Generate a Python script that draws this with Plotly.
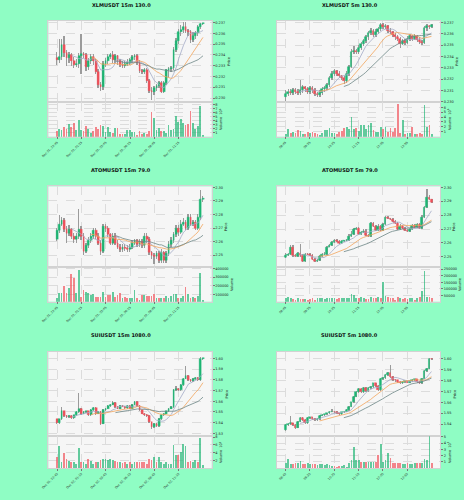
import pandas as pd
import plotly.graph_objects as go

# ---- XLMUSDT 15m ----
XLM15_OPEN = [0.2337, 0.2335, 0.2338, 0.2349, 0.2342, 0.2337, 0.2340, 0.2334, 0.2331, 0.2332,
              0.2339, 0.2341, 0.2340, 0.2329, 0.2334, 0.2338, 0.2334, 0.2324, 0.2312, 0.2310,
              0.2332, 0.2334, 0.2338, 0.2340, 0.2335, 0.2339, 0.2334, 0.2331, 0.2330, 0.2332,
              0.2333, 0.2335, 0.2338, 0.2339, 0.2333, 0.2325, 0.2324, 0.2326, 0.2316, 0.2307,
              0.2306, 0.2309, 0.2311, 0.2314, 0.2306, 0.2314, 0.2326, 0.2327, 0.2328, 0.2345,
              0.2353, 0.2361, 0.2363, 0.2366, 0.2362, 0.2361, 0.2354, 0.2358, 0.2360, 0.2366,
              0.2369]
XLM15_HIGH = [0.2343, 0.2355, 0.2355, 0.2358, 0.2345, 0.2343, 0.2342, 0.2338, 0.2336, 0.2342,
              0.2359, 0.2343, 0.2342, 0.2337, 0.2341, 0.2341, 0.2336, 0.2327, 0.2315, 0.2334,
              0.2337, 0.2341, 0.2342, 0.2344, 0.2341, 0.2340, 0.2336, 0.2334, 0.2334, 0.2336,
              0.2337, 0.2340, 0.2341, 0.2341, 0.2335, 0.2327, 0.2328, 0.2328, 0.2318, 0.2310,
              0.2311, 0.2313, 0.2316, 0.2316, 0.2316, 0.2327, 0.2329, 0.2330, 0.2347, 0.2356,
              0.2364, 0.2368, 0.2371, 0.2371, 0.2364, 0.2363, 0.2361, 0.2362, 0.2368, 0.2370,
              0.2370]
XLM15_LOW = [0.2331, 0.2333, 0.2335, 0.2338, 0.2330, 0.2333, 0.2330, 0.2328, 0.2329, 0.2328,
             0.2322, 0.2337, 0.2325, 0.2326, 0.2332, 0.2331, 0.2322, 0.2309, 0.2307, 0.2308,
             0.2329, 0.2332, 0.2336, 0.2333, 0.2333, 0.2331, 0.2329, 0.2328, 0.2328, 0.2330,
             0.2331, 0.2333, 0.2335, 0.2331, 0.2323, 0.2322, 0.2322, 0.2314, 0.2305, 0.2298,
             0.2303, 0.2307, 0.2309, 0.2305, 0.2305, 0.2312, 0.2320, 0.2324, 0.2326, 0.2343,
             0.2350, 0.2358, 0.2360, 0.2360, 0.2358, 0.2351, 0.2352, 0.2355, 0.2358, 0.2364,
             0.2368]
XLM15_CLOSE = [0.2335, 0.2338, 0.2349, 0.2342, 0.2337, 0.2340, 0.2334, 0.2331, 0.2332, 0.2339,
               0.2341, 0.2340, 0.2329, 0.2334, 0.2338, 0.2334, 0.2324, 0.2312, 0.2310, 0.2332,
               0.2334, 0.2338, 0.2340, 0.2335, 0.2339, 0.2334, 0.2331, 0.2330, 0.2332, 0.2333,
               0.2335, 0.2338, 0.2339, 0.2333, 0.2325, 0.2324, 0.2326, 0.2316, 0.2307, 0.2306,
               0.2309, 0.2311, 0.2314, 0.2306, 0.2314, 0.2326, 0.2327, 0.2328, 0.2345, 0.2353,
               0.2361, 0.2363, 0.2366, 0.2362, 0.2361, 0.2354, 0.2358, 0.2360, 0.2366, 0.2369,
               0.2370]
XLM15_VOLUME = [1.5, 1.9, 1.75, 2.3, 1.9, 3.2, 2.3, 3.3, 1.7, 4.2,
                1.7, 1.5, 2.7, 1.9, 1.0, 1.5, 2.3, 1.9, 2.9, 2.7,
                1.3, 2.3, 1.25, 0.9, 2.1, 2.1, 0.8, 0.8, 0.7, 1.7,
                1.6, 1.25, 1.25, 0.5, 1.5, 0.8, 1.0, 0.7, 1.5, 6.1,
                4.7, 1.7, 2.2, 1.5, 1.5, 0.9, 3.0, 1.7, 1.9, 5.25,
                3.6, 4.4, 3.5, 3.0, 3.2, 6.3, 3.4, 1.9, 2.75, 7.5,
                0.4]  # x10^6
XLM15_PRICE_TICKS = [0.230, 0.231, 0.232, 0.233, 0.234, 0.235, 0.236, 0.237]

# ---- XLMUSDT 5m ----
XLM5_OPEN = [0.2304, 0.2307, 0.2309, 0.2308, 0.2310, 0.2309, 0.2308, 0.2310, 0.2313, 0.2311,
             0.2309, 0.2312, 0.2310, 0.2307, 0.2306, 0.2308, 0.2311, 0.2312, 0.2315, 0.2321,
             0.2325, 0.2327, 0.2325, 0.2323, 0.2321, 0.2318, 0.2325, 0.2331, 0.2344, 0.2345,
             0.2344, 0.2348, 0.2351, 0.2354, 0.2357, 0.2361, 0.2363, 0.2359, 0.2362, 0.2364,
             0.2368, 0.2366, 0.2367, 0.2363, 0.2362, 0.2359, 0.2357, 0.2356, 0.2351, 0.2354,
             0.2352, 0.2356, 0.2358, 0.2356, 0.2358, 0.2355, 0.2353, 0.2352, 0.2365, 0.2367,
             0.2366]
XLM5_HIGH = [0.2310, 0.2311, 0.2311, 0.2312, 0.2312, 0.2311, 0.2319, 0.2315, 0.2314, 0.2313,
             0.2314, 0.2314, 0.2312, 0.2309, 0.2310, 0.2313, 0.2314, 0.2317, 0.2323, 0.2327,
             0.2329, 0.2328, 0.2327, 0.2324, 0.2323, 0.2327, 0.2333, 0.2347, 0.2349, 0.2347,
             0.2350, 0.2353, 0.2356, 0.2359, 0.2363, 0.2365, 0.2364, 0.2364, 0.2366, 0.2370,
             0.2370, 0.2369, 0.2368, 0.2365, 0.2363, 0.2361, 0.2359, 0.2357, 0.2356, 0.2356,
             0.2358, 0.2360, 0.2359, 0.2360, 0.2359, 0.2357, 0.2355, 0.2367, 0.2369, 0.2368,
             0.2369]
XLM5_LOW = [0.2301, 0.2305, 0.2306, 0.2306, 0.2307, 0.2306, 0.2306, 0.2308, 0.2309, 0.2307,
            0.2307, 0.2308, 0.2305, 0.2304, 0.2304, 0.2306, 0.2309, 0.2310, 0.2313, 0.2319,
            0.2323, 0.2323, 0.2321, 0.2319, 0.2316, 0.2317, 0.2323, 0.2330, 0.2342, 0.2342,
            0.2342, 0.2346, 0.2349, 0.2352, 0.2355, 0.2359, 0.2357, 0.2357, 0.2360, 0.2363,
            0.2364, 0.2364, 0.2361, 0.2360, 0.2357, 0.2355, 0.2354, 0.2348, 0.2350, 0.2350,
            0.2351, 0.2354, 0.2354, 0.2355, 0.2353, 0.2351, 0.2350, 0.2351, 0.2363, 0.2364,
            0.2365]
XLM5_CLOSE = [0.2307, 0.2309, 0.2308, 0.2310, 0.2309, 0.2308, 0.2310, 0.2313, 0.2311, 0.2309,
              0.2312, 0.2310, 0.2307, 0.2306, 0.2308, 0.2311, 0.2312, 0.2315, 0.2321, 0.2325,
              0.2327, 0.2325, 0.2323, 0.2321, 0.2318, 0.2325, 0.2331, 0.2344, 0.2345, 0.2344,
              0.2348, 0.2351, 0.2354, 0.2357, 0.2361, 0.2363, 0.2359, 0.2362, 0.2364, 0.2368,
              0.2366, 0.2367, 0.2363, 0.2362, 0.2359, 0.2357, 0.2356, 0.2351, 0.2354, 0.2352,
              0.2356, 0.2358, 0.2356, 0.2358, 0.2355, 0.2353, 0.2352, 0.2365, 0.2367, 0.2366,
              0.2368]
XLM5_VOLUME = [0.6, 1.5, 0.8, 0.9, 0.7, 1.3, 1.2, 0.6, 0.6, 1.0,
               0.8, 1.0, 0.8, 0.5, 0.4, 0.8, 1.3, 1.3, 1.7, 0.8,
               0.7, 0.6, 0.9, 1.1, 1.7, 2.0, 1.6, 4.1, 1.6, 1.8,
               1.2, 2.5, 2.5, 1.6, 2.5, 2.9, 1.3, 1.0, 1.0, 1.9,
               1.6, 2.0, 1.0, 1.7, 1.0, 1.7, 6.6, 0.8, 3.4, 0.6,
               0.8, 0.7, 2.1, 0.6, 0.5, 0.8, 0.6, 6.4, 1.9, 2.5,
               0.5]  # x10^6
XLM5_PRICE_TICKS = [0.230, 0.231, 0.232, 0.233, 0.234, 0.235, 0.236, 0.237]

# ---- ATOMUSDT 15m ----
ATOM15_OPEN = [2.262, 2.268, 2.273, 2.276, 2.269, 2.266, 2.269, 2.264, 2.262, 2.264,
               2.269, 2.264, 2.253, 2.257, 2.261, 2.264, 2.268, 2.264, 2.259, 2.253,
               2.271, 2.270, 2.265, 2.259, 2.264, 2.259, 2.256, 2.254, 2.256, 2.255,
               2.254, 2.256, 2.259, 2.261, 2.258, 2.260, 2.257, 2.264, 2.262, 2.252,
               2.250, 2.249, 2.251, 2.246, 2.252, 2.246, 2.251, 2.258, 2.261, 2.265,
               2.270, 2.267, 2.273, 2.274, 2.270, 2.278, 2.273, 2.274, 2.270, 2.278,
               2.291]
ATOM15_HIGH = [2.270, 2.279, 2.278, 2.277, 2.271, 2.272, 2.270, 2.266, 2.266, 2.284,
               2.271, 2.266, 2.259, 2.263, 2.266, 2.270, 2.270, 2.266, 2.261, 2.273,
               2.273, 2.271, 2.266, 2.266, 2.266, 2.261, 2.258, 2.258, 2.258, 2.257,
               2.258, 2.261, 2.262, 2.262, 2.262, 2.262, 2.266, 2.266, 2.263, 2.253,
               2.251, 2.253, 2.253, 2.254, 2.253, 2.253, 2.260, 2.263, 2.267, 2.272,
               2.272, 2.276, 2.277, 2.276, 2.280, 2.280, 2.276, 2.276, 2.280, 2.298,
               2.293]
ATOM15_LOW = [2.260, 2.266, 2.271, 2.267, 2.259, 2.264, 2.262, 2.259, 2.259, 2.262,
              2.261, 2.250, 2.251, 2.255, 2.259, 2.262, 2.262, 2.257, 2.250, 2.251,
              2.267, 2.263, 2.257, 2.257, 2.257, 2.254, 2.252, 2.252, 2.253, 2.252,
              2.252, 2.254, 2.257, 2.256, 2.256, 2.255, 2.255, 2.259, 2.250, 2.247,
              2.243, 2.247, 2.244, 2.244, 2.244, 2.244, 2.249, 2.256, 2.259, 2.263,
              2.264, 2.265, 2.271, 2.268, 2.268, 2.271, 2.271, 2.268, 2.268, 2.276,
              2.289]
ATOM15_CLOSE = [2.268, 2.273, 2.276, 2.269, 2.266, 2.269, 2.264, 2.262, 2.264, 2.269,
                2.264, 2.253, 2.257, 2.261, 2.264, 2.268, 2.264, 2.259, 2.253, 2.271,
                2.270, 2.265, 2.259, 2.264, 2.259, 2.256, 2.254, 2.256, 2.255, 2.254,
                2.256, 2.259, 2.261, 2.258, 2.260, 2.257, 2.264, 2.262, 2.252, 2.250,
                2.249, 2.251, 2.246, 2.252, 2.246, 2.251, 2.258, 2.261, 2.265, 2.270,
                2.267, 2.273, 2.274, 2.270, 2.278, 2.273, 2.274, 2.270, 2.278, 2.291,
                2.292]
ATOM15_VOLUME = [52000, 120000, 120000, 200000, 120000, 172000, 332000, 284000, 112000, 380000,
                 64000, 152000, 124000, 120000, 88000, 104000, 72000, 64000, 64000, 124000,
                 64000, 88000, 88000, 128000, 64000, 88000, 120000, 60000, 70000, 60000,
                 60000, 60000, 144000, 60000, 40000, 88000, 92000, 84000, 84000, 80000,
                 100000, 60000, 60000, 52000, 52000, 80000, 60000, 80000, 104000, 104000,
                 60000, 52000, 80000, 184000, 100000, 52000, 72000, 60000, 80000, 340000,
                 32000]
ATOM15_PRICE_TICKS = [2.25, 2.26, 2.27, 2.28, 2.29, 2.30]

# ---- ATOMUSDT 5m ----
ATOM5_OPEN = [2.2495, 2.2512, 2.2515, 2.2571, 2.2507, 2.2505, 2.2524, 2.2507, 2.2467, 2.2519,
              2.2517, 2.2507, 2.2483, 2.2467, 2.2471, 2.2500, 2.2519, 2.2521, 2.2571, 2.2583,
              2.2602, 2.2619, 2.2610, 2.2595, 2.2610, 2.2615, 2.2619, 2.2650, 2.2662, 2.2698,
              2.2705, 2.2662, 2.2674, 2.2686, 2.2657, 2.2650, 2.2738, 2.2721, 2.2690, 2.2721,
              2.2690, 2.2733, 2.2781, 2.2774, 2.2769, 2.2757, 2.2738, 2.2698, 2.2721, 2.2705,
              2.2690, 2.2681, 2.2698, 2.2726, 2.2710, 2.2733, 2.2705, 2.2786, 2.2857, 2.2931,
              2.2912]
ATOM5_HIGH = [2.2522, 2.2525, 2.2580, 2.2580, 2.2515, 2.2532, 2.2590, 2.2515, 2.2527, 2.2526,
              2.2526, 2.2515, 2.2492, 2.2480, 2.2508, 2.2527, 2.2530, 2.2578, 2.2592, 2.2610,
              2.2628, 2.2625, 2.2618, 2.2617, 2.2622, 2.2627, 2.2660, 2.2680, 2.2706, 2.2714,
              2.2712, 2.2682, 2.2694, 2.2694, 2.2665, 2.2746, 2.2745, 2.2728, 2.2730, 2.2728,
              2.2742, 2.2790, 2.2790, 2.2780, 2.2775, 2.2764, 2.2745, 2.2730, 2.2728, 2.2712,
              2.2698, 2.2706, 2.2735, 2.2733, 2.2742, 2.2740, 2.2795, 2.2866, 2.2983, 2.2940,
              2.2915]
ATOM5_LOW = [2.2487, 2.2505, 2.2508, 2.2498, 2.2497, 2.2498, 2.2499, 2.2460, 2.2460, 2.2510,
             2.2500, 2.2475, 2.2460, 2.2462, 2.2465, 2.2493, 2.2512, 2.2514, 2.2565, 2.2576,
             2.2595, 2.2603, 2.2588, 2.2588, 2.2604, 2.2608, 2.2612, 2.2643, 2.2655, 2.2690,
             2.2655, 2.2656, 2.2668, 2.2650, 2.2643, 2.2643, 2.2715, 2.2683, 2.2684, 2.2683,
             2.2684, 2.2726, 2.2767, 2.2762, 2.2750, 2.2731, 2.2690, 2.2690, 2.2698, 2.2683,
             2.2674, 2.2675, 2.2690, 2.2703, 2.2703, 2.2698, 2.2698, 2.2780, 2.2850, 2.2905,
             2.2888]
ATOM5_CLOSE = [2.2512, 2.2515, 2.2571, 2.2507, 2.2505, 2.2524, 2.2507, 2.2467, 2.2519, 2.2517,
               2.2507, 2.2483, 2.2467, 2.2471, 2.2500, 2.2519, 2.2521, 2.2571, 2.2583, 2.2602,
               2.2619, 2.2610, 2.2595, 2.2610, 2.2615, 2.2619, 2.2650, 2.2662, 2.2698, 2.2705,
               2.2662, 2.2674, 2.2686, 2.2657, 2.2650, 2.2738, 2.2721, 2.2690, 2.2721, 2.2690,
               2.2733, 2.2781, 2.2774, 2.2769, 2.2757, 2.2738, 2.2698, 2.2721, 2.2705, 2.2690,
               2.2681, 2.2698, 2.2726, 2.2710, 2.2733, 2.2705, 2.2786, 2.2857, 2.2931, 2.2912,
               2.2895]
ATOM5_VOLUME = [26000, 38000, 26000, 18000, 13000, 26000, 18000, 18000, 18000, 13000,
                18000, 26000, 13000, 26000, 26000, 31000, 23000, 26000, 26000, 31000,
                26000, 23000, 31000, 26000, 28000, 31000, 31000, 56000, 51000, 31000,
                26000, 38000, 26000, 18000, 18000, 38000, 28000, 26000, 38000, 26000,
                146000, 46000, 33000, 26000, 26000, 13000, 33000, 26000, 18000, 26000,
                18000, 28000, 31000, 13000, 26000, 38000, 82000, 236000, 38000, 38000,
                26000]
ATOM5_PRICE_TICKS = [2.25, 2.26, 2.27, 2.28, 2.29, 2.30]

# ---- SUIUSDT 15m ----
SUI15_OPEN = [1.5431, 1.5400, 1.5431, 1.5506, 1.5463, 1.5453, 1.5463, 1.5444, 1.5469, 1.5500,
              1.5531, 1.5484, 1.5500, 1.5506, 1.5469, 1.5516, 1.5538, 1.5484, 1.5500, 1.5391,
              1.5516, 1.5531, 1.5556, 1.5569, 1.5588, 1.5547, 1.5531, 1.5556, 1.5550, 1.5538,
              1.5556, 1.5531, 1.5569, 1.5594, 1.5556, 1.5516, 1.5484, 1.5475, 1.5463, 1.5406,
              1.5359, 1.5391, 1.5369, 1.5438, 1.5469, 1.5484, 1.5506, 1.5531, 1.5547, 1.5703,
              1.5719, 1.5703, 1.5750, 1.5813, 1.5838, 1.5797, 1.5788, 1.5806, 1.5819, 1.5797,
              1.6000]
SUI15_HIGH = [1.5440, 1.5440, 1.5547, 1.5512, 1.5470, 1.5472, 1.5470, 1.5476, 1.5508, 1.5678,
              1.5540, 1.5508, 1.5515, 1.5512, 1.5525, 1.5546, 1.5545, 1.5508, 1.5506, 1.5525,
              1.5540, 1.5565, 1.5578, 1.5600, 1.5595, 1.5556, 1.5565, 1.5563, 1.5556, 1.5564,
              1.5562, 1.5578, 1.5603, 1.5600, 1.5562, 1.5522, 1.5490, 1.5482, 1.5470, 1.5412,
              1.5398, 1.5397, 1.5446, 1.5476, 1.5492, 1.5514, 1.5540, 1.5556, 1.5712, 1.5740,
              1.5730, 1.5760, 1.5822, 1.5931, 1.5845, 1.5805, 1.5815, 1.5828, 1.5826, 1.6013,
              1.6008]
SUI15_LOW = [1.5390, 1.5392, 1.5425, 1.5455, 1.5445, 1.5445, 1.5436, 1.5438, 1.5462, 1.5492,
             1.5476, 1.5478, 1.5495, 1.5462, 1.5462, 1.5510, 1.5476, 1.5478, 1.5380, 1.5385,
             1.5510, 1.5525, 1.5550, 1.5562, 1.5540, 1.5525, 1.5526, 1.5544, 1.5532, 1.5532,
             1.5525, 1.5525, 1.5562, 1.5550, 1.5510, 1.5478, 1.5468, 1.5455, 1.5398, 1.5345,
             1.5352, 1.5362, 1.5362, 1.5430, 1.5462, 1.5478, 1.5500, 1.5525, 1.5540, 1.5696,
             1.5695, 1.5696, 1.5742, 1.5806, 1.5790, 1.5780, 1.5782, 1.5798, 1.5790, 1.5790,
             1.5995]
SUI15_CLOSE = [1.5400, 1.5431, 1.5506, 1.5463, 1.5453, 1.5463, 1.5444, 1.5469, 1.5500, 1.5531,
               1.5484, 1.5500, 1.5506, 1.5469, 1.5516, 1.5538, 1.5484, 1.5500, 1.5391, 1.5516,
               1.5531, 1.5556, 1.5569, 1.5588, 1.5547, 1.5531, 1.5556, 1.5550, 1.5538, 1.5556,
               1.5531, 1.5569, 1.5594, 1.5556, 1.5516, 1.5484, 1.5475, 1.5463, 1.5406, 1.5359,
               1.5391, 1.5369, 1.5438, 1.5469, 1.5484, 1.5506, 1.5531, 1.5547, 1.5703, 1.5719,
               1.5703, 1.5750, 1.5813, 1.5838, 1.5797, 1.5788, 1.5806, 1.5819, 1.5797, 1.6000,
               1.6002]
SUI15_VOLUME = [2.8, 5.5, 1.4, 3.7, 2.4, 1.8, 1.6, 1.4, 1.1, 5.0,
                1.6, 1.6, 0.9, 2.4, 1.8, 1.1, 1.4, 1.4, 2.0, 2.2,
                2.2, 2.1, 2.2, 2.0, 1.8, 1.4, 1.4, 1.3, 1.4, 1.1,
                1.4, 0.9, 1.4, 1.4, 1.4, 1.4, 1.4, 1.1, 2.4, 2.0,
                2.8, 1.5, 2.8, 1.4, 1.1, 1.4, 0.9, 1.1, 5.8, 3.2,
                3.2, 4.2, 6.1, 5.6, 1.6, 1.8, 1.4, 2.0, 1.4, 7.8,
                0.6]  # x10^5
SUI15_PRICE_TICKS = [1.53, 1.54, 1.55, 1.56, 1.57, 1.58, 1.59, 1.60]

# ---- SUIUSDT 5m ----
SUI5_OPEN = [1.5348, 1.5394, 1.5400, 1.5409, 1.5394, 1.5370, 1.5424, 1.5455, 1.5439, 1.5409,
             1.5461, 1.5463, 1.5448, 1.5439, 1.5448, 1.5479, 1.5485, 1.5491, 1.5500, 1.5515,
             1.5516, 1.5512, 1.5500, 1.5491, 1.5509, 1.5515, 1.5530, 1.5561, 1.5600, 1.5652,
             1.5697, 1.5721, 1.5697, 1.5733, 1.5703, 1.5733, 1.5742, 1.5773, 1.5752, 1.5712,
             1.5812, 1.5824, 1.5848, 1.5873, 1.5833, 1.5803, 1.5802, 1.5788, 1.5773, 1.5788,
             1.5794, 1.5782, 1.5794, 1.5803, 1.5812, 1.5788, 1.5773, 1.5818, 1.5885, 1.5909,
             1.6000]
SUI5_HIGH = [1.5400, 1.5410, 1.5479, 1.5415, 1.5400, 1.5430, 1.5465, 1.5462, 1.5445, 1.5468,
             1.5470, 1.5468, 1.5455, 1.5455, 1.5486, 1.5492, 1.5498, 1.5506, 1.5522, 1.5535,
             1.5522, 1.5518, 1.5505, 1.5515, 1.5522, 1.5537, 1.5568, 1.5608, 1.5660, 1.5705,
             1.5730, 1.5730, 1.5740, 1.5740, 1.5740, 1.5750, 1.5780, 1.5780, 1.5760, 1.5820,
             1.5832, 1.5856, 1.5880, 1.5939, 1.5840, 1.5810, 1.5808, 1.5795, 1.5795, 1.5800,
             1.5800, 1.5800, 1.5810, 1.5818, 1.5818, 1.5795, 1.5825, 1.5892, 1.5916, 1.6010,
             1.6006]
SUI5_LOW = [1.5335, 1.5385, 1.5392, 1.5388, 1.5360, 1.5362, 1.5418, 1.5432, 1.5400, 1.5402,
            1.5455, 1.5440, 1.5432, 1.5432, 1.5442, 1.5472, 1.5478, 1.5485, 1.5494, 1.5508,
            1.5505, 1.5494, 1.5484, 1.5485, 1.5502, 1.5508, 1.5524, 1.5555, 1.5594, 1.5645,
            1.5690, 1.5690, 1.5690, 1.5697, 1.5697, 1.5726, 1.5736, 1.5745, 1.5705, 1.5705,
            1.5805, 1.5818, 1.5840, 1.5826, 1.5796, 1.5795, 1.5782, 1.5766, 1.5766, 1.5782,
            1.5776, 1.5776, 1.5788, 1.5797, 1.5782, 1.5766, 1.5766, 1.5812, 1.5878, 1.5902,
            1.5988]
SUI5_CLOSE = [1.5394, 1.5400, 1.5409, 1.5394, 1.5370, 1.5424, 1.5455, 1.5439, 1.5409, 1.5461,
              1.5463, 1.5448, 1.5439, 1.5448, 1.5479, 1.5485, 1.5491, 1.5500, 1.5515, 1.5516,
              1.5512, 1.5500, 1.5491, 1.5509, 1.5515, 1.5530, 1.5561, 1.5600, 1.5652, 1.5697,
              1.5721, 1.5697, 1.5733, 1.5703, 1.5733, 1.5742, 1.5773, 1.5752, 1.5712, 1.5812,
              1.5824, 1.5848, 1.5873, 1.5833, 1.5803, 1.5802, 1.5788, 1.5773, 1.5788, 1.5794,
              1.5782, 1.5794, 1.5803, 1.5812, 1.5788, 1.5773, 1.5818, 1.5885, 1.5909, 1.6000,
              1.5994]
SUI5_VOLUME = [0.7, 1.4, 0.55, 0.55, 0.8, 0.8, 1.1, 0.55, 0.55, 0.7,
               0.55, 0.55, 0.55, 0.45, 0.55, 0.55, 0.45, 0.55, 0.45, 0.35,
               0.3, 0.2, 0.3, 0.3, 0.45, 0.2, 0.7, 1.2, 3.4, 1.2,
               1.2, 1.0, 1.0, 1.0, 1.0, 1.0, 0.9, 1.0, 2.1, 3.8,
               1.0, 1.2, 2.4, 1.6, 0.7, 0.7, 0.7, 0.7, 0.55, 0.55,
               0.7, 0.55, 0.55, 0.7, 0.8, 0.7, 0.8, 1.4, 1.2, 5.1,
               0.7]  # x10^5
SUI5_PRICE_TICKS = [1.54, 1.55, 1.56, 1.57, 1.58, 1.59, 1.60]

TICKS_15M = ["Dec 01, 22:45", "Dec 02, 01:15", "Dec 02, 03:45",
             "Dec 02, 06:15", "Dec 02, 08:45", "Dec 02, 11:15"]
TICKS_5M = ["08:45", "09:35", "10:25", "11:15", "12:05", "12:55"]

TITLES = ["XLMUSDT 15m 130.0", "XLMUSDT 5m 130.0",
          "ATOMUSDT 15m 79.0", "ATOMUSDT 5m 79.0",
          "SUIUSDT 15m 1080.0", "SUIUSDT 5m 1080.0"]

BG = '#8ffdc4'
UP = '#1db673'
DOWN = '#f04f58'
WICK = '#9b9b9b'
VOL_UP = 'rgba(29,182,115,0.68)'
VOL_DOWN = 'rgba(240,79,88,0.68)'
MA_PERIODS = [7, 15, 25]
MA_COLORS = ['#a3abc6', '#f3a55c', '#6d8686']
FONT = 'DejaVu Sans'

charts = [
    dict(o=XLM15_OPEN, h=XLM15_HIGH, l=XLM15_LOW, c=XLM15_CLOSE, v=XLM15_VOLUME, ticks=TICKS_15M,
         prange=[0.22964, 0.23715], pticks=XLM15_PRICE_TICKS, fmt='.3f',
         vrange=[0, 8.6], vticks=[1, 2, 3, 4, 5, 6, 7, 8], vlabel='Volume  10<sup>6</sup>'),
    dict(o=XLM5_OPEN, h=XLM5_HIGH, l=XLM5_LOW, c=XLM5_CLOSE, v=XLM5_VOLUME, ticks=TICKS_5M,
         prange=[0.22998, 0.23715], pticks=XLM5_PRICE_TICKS, fmt='.3f',
         vrange=[0, 7.1], vticks=[1, 2, 3, 4, 5, 6], vlabel='Volume  10<sup>6</sup>'),
    dict(o=ATOM15_OPEN, h=ATOM15_HIGH, l=ATOM15_LOW, c=ATOM15_CLOSE, v=ATOM15_VOLUME, ticks=TICKS_15M,
         prange=[2.241, 2.3007], pticks=ATOM15_PRICE_TICKS, fmt='.2f',
         vrange=[20000, 412000], vticks=[100000, 200000, 300000, 400000], vlabel='Volume'),
    dict(o=ATOM5_OPEN, h=ATOM5_HIGH, l=ATOM5_LOW, c=ATOM5_CLOSE, v=ATOM5_VOLUME, ticks=TICKS_5M,
         prange=[2.2424, 2.3007], pticks=ATOM5_PRICE_TICKS, fmt='.2f',
         vrange=[4000, 263000], vticks=[50000, 100000, 150000, 200000, 250000], vlabel='Volume'),
    dict(o=SUI15_OPEN, h=SUI15_HIGH, l=SUI15_LOW, c=SUI15_CLOSE, v=SUI15_VOLUME, ticks=TICKS_15M,
         prange=[1.5272, 1.6062], pticks=SUI15_PRICE_TICKS, fmt='.2f',
         vrange=[0, 8.2], vticks=[2, 4, 6, 8], vlabel='Volume  10<sup>5</sup>'),
    dict(o=SUI5_OPEN, h=SUI5_HIGH, l=SUI5_LOW, c=SUI5_CLOSE, v=SUI5_VOLUME, ticks=TICKS_5M,
         prange=[1.5288, 1.6061], pticks=SUI5_PRICE_TICKS, fmt='.2f',
         vrange=[0, 5.1], vticks=[1, 2, 3, 4, 5], vlabel='Volume  10<sup>5</sup>'),
]

# panel placement (paper coords): columns and rows of the 3x2 grid
COL_X = [[0.0905, 0.448], [0.590, 0.948]]
ROW_Y = [  # (price domain, volume domain, title y)
    ([0.797, 0.960], [0.727, 0.797], 0.991),
    ([0.464, 0.627], [0.395, 0.464], 0.659),
    ([0.124, 0.294], [0.060, 0.124], 0.327),
]


def axis_names(i):
    key = '' if i == 1 else str(i)
    return 'xaxis' + key, 'yaxis' + key, 'x' + key, 'y' + key


fig = go.Figure()
layout = {}
annotations = []

for n, ch in enumerate(charts):
    col = n % 2
    row = n // 2
    xdom = COL_X[col]
    pdom, vdom, ty = ROW_Y[row]
    pa, va = 2 * n + 1, 2 * n + 2
    pxk, pyk, pxr, pyr = axis_names(pa)
    vxk, vyk, vxr, vyr = axis_names(va)

    idx = list(range(len(ch['c'])))
    up = [c >= o for o, c in zip(ch['o'], ch['c'])]

    # wicks
    fig.add_trace(go.Bar(
        x=idx, y=[h - l for h, l in zip(ch['h'], ch['l'])], base=ch['l'],
        width=0.14, marker_color=WICK, marker_line_width=0,
        xaxis=pxr, yaxis=pyr, showlegend=False, hoverinfo='skip'
    ))
    # bodies
    body_colors = [UP if u else DOWN for u in up]
    fig.add_trace(go.Bar(
        x=idx, y=[abs(c - o) for o, c in zip(ch['o'], ch['c'])],
        base=[min(o, c) for o, c in zip(ch['o'], ch['c'])],
        width=0.72, marker_color=body_colors,
        marker_line_color=body_colors, marker_line_width=0.4,
        xaxis=pxr, yaxis=pyr, showlegend=False, hoverinfo='skip'
    ))
    # moving averages
    closes = pd.Series(ch['c'])
    for per, color in zip(MA_PERIODS, MA_COLORS):
        fig.add_trace(go.Scatter(
            x=idx, y=closes.rolling(per).mean(), mode='lines',
            line=dict(color=color, width=0.8),
            xaxis=pxr, yaxis=pyr, showlegend=False, hoverinfo='skip'
        ))
    # volume
    fig.add_trace(go.Bar(
        x=idx, y=ch['v'], width=0.72,
        marker_color=[VOL_UP if u else VOL_DOWN for u in up], marker_line_width=0,
        xaxis=vxr, yaxis=vyr, showlegend=False, hoverinfo='skip'
    ))

    common_x = dict(
        domain=xdom, range=[-3.6, len(idx) + 2.6],
        tickvals=[0, 10, 20, 30, 40, 50],
        showgrid=True, gridcolor='#dcdcdc', gridwidth=0.6, griddash='dash',
        zeroline=False, showline=True, linecolor='#d2d2d2', linewidth=0.6, mirror=True,
        fixedrange=True
    )
    common_y = dict(
        side='right', showgrid=True, gridcolor='#dcdcdc', gridwidth=0.6, griddash='dash',
        zeroline=False, showline=True, linecolor='#d2d2d2', linewidth=0.6, mirror=True,
        ticks='outside', ticklen=2, tickcolor='#777', tickwidth=0.5,
        tickfont=dict(size=3.5, color='#222'), title_standoff=2, fixedrange=True
    )
    layout[pxk] = dict(common_x, anchor=pyr, matches=vxr, showticklabels=False,
                       ticks='', rangeslider=dict(visible=False))
    layout[vxk] = dict(common_x, anchor=vyr, ticktext=ch['ticks'], tickangle=-45,
                       ticks='outside', ticklen=2, tickcolor='#777', tickwidth=0.5,
                       tickfont=dict(size=3, color='#222'))
    layout[pyk] = dict(common_y, domain=pdom, anchor=pxr, range=ch['prange'],
                       tickvals=ch['pticks'], tickformat=ch['fmt'],
                       title=dict(text='Price', font=dict(size=3.5, color='#222')))
    layout[vyk] = dict(common_y, domain=vdom, anchor=vxr, range=ch['vrange'],
                       tickvals=ch['vticks'], tickformat='d',
                       title=dict(text=ch['vlabel'], font=dict(size=3.5, color='#222')))

    annotations.append(dict(
        text='<b>' + TITLES[n] + '</b>', x=0.25 + 0.5 * col, y=ty,
        xref='paper', yref='paper', xanchor='center', yanchor='middle',
        showarrow=False, font=dict(size=5, color='#111')
    ))

fig.update_layout(
    width=464, height=500, autosize=False,
    margin=dict(l=0, r=0, t=0, b=0),
    paper_bgcolor=BG, plot_bgcolor='#f6f6f6',
    barmode='overlay', bargap=0,
    font=dict(family=FONT, color='#222'),
    annotations=annotations,
    showlegend=False,
    **layout
)

fig.write_html("out.html", config={'displayModeBar': False},
               post_script="document.body.style.margin='0';document.body.style.background='" + BG + "';")
